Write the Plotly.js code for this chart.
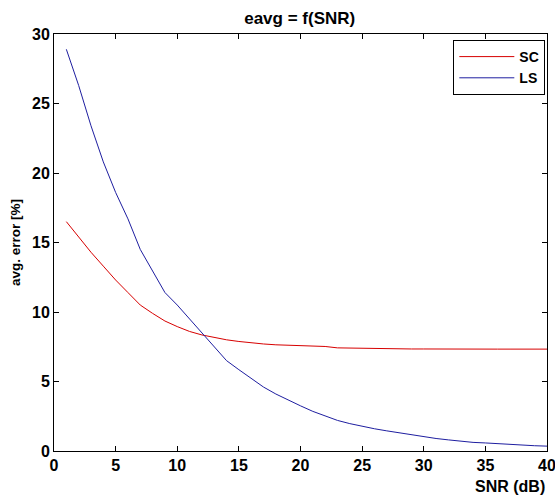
<!DOCTYPE html>
<html>
<head>
<meta charset="utf-8">
<script src="https://cdn.plot.ly/plotly-3.0.1.min.js"></script>
<style>html,body{margin:0;padding:0;background:#fff;}#chart{width:555px;height:498px;}</style>
</head>
<body>
<div id="chart"></div>
<script>
const snr = [1,2,3,4,5,6,7,8,9,10,11,12,13,14,15,16,17,18,19,20,21,22,23,24,25,26,27,28,29,30,31,32,33,34,35,36,37,38,39,40];
const scError = [16.5,15.4,14.3,13.3,12.3,11.4,10.5,9.9,9.35,8.95,8.6,8.35,8.15,8.0,7.88,7.78,7.7,7.64,7.6,7.55,7.53,7.52,7.42,7.4,7.39,7.38,7.38,7.35,7.34,7.34,7.33,7.33,7.33,7.33,7.33,7.33,7.33,7.33,7.33,7.33];
const lsError = [28.9,26.3,23.4,20.8,18.6,16.7,14.5,13.0,11.4,10.5,9.5,8.5,7.5,6.5,5.85,5.2,4.6,4.1,3.65,3.25,2.85,2.5,2.2,1.97,1.77,1.6,1.45,1.3,1.15,1.02,0.9,0.8,0.7,0.62,0.58,0.52,0.45,0.42,0.38,0.35];
const seriesNames = ["SC", "LS"];
const titleText = "eavg = f(SNR)";
const xTitle = "SNR (dB)";
const yTitle = "avg. error [%]";

const FONT = "Liberation Sans, Arial, sans-serif";
const traces = [
  {x: snr, y: scError, name: seriesNames[0], mode: "lines", line: {color: "rgb(215,0,0)", width: 1}},
  {x: snr, y: lsError, name: seriesNames[1], mode: "lines", line: {color: "rgb(30,30,160)", width: 1}}
];
const axisCommon = {
  showgrid: false, zeroline: false, showline: true, linecolor: "#000", linewidth: 1,
  mirror: "ticks", ticks: "inside", ticklen: 5, tickcolor: "#000", dtick: 5, tick0: 0,
  ticklabeloverflow: "allow",
  tickfont: {family: FONT, size: 16, color: "#000", weight: "bold"}
};
const layout = {
  width: 555, height: 498,
  paper_bgcolor: "#fff", plot_bgcolor: "#fff",
  margin: {l: 54, r: 8, t: 34, b: 47},
  title: {text: titleText, font: {family: FONT, size: 17, color: "#000", weight: "bold"},
          x: 0.54, xref: "container", xanchor: "center", y: 0.964, yref: "container", yanchor: "middle"},
  xaxis: Object.assign({}, axisCommon, {range: [0, 40]}),
  yaxis: Object.assign({}, axisCommon, {range: [0, 30],
    title: {text: yTitle, standoff: 8, font: {family: FONT, size: 13.5, color: "#000", weight: "bold"}}}),
  showlegend: true,
  legend: {x: 0.9966, xanchor: "right", y: 0.9856, yanchor: "top", bgcolor: "#fff",
           bordercolor: "#000", borderwidth: 1, itemwidth: 55,
           font: {family: FONT, size: 14, color: "#000", weight: "bold"}},
  annotations: [{text: xTitle, xref: "paper", yref: "paper", x: 1, y: -0.086, xanchor: "right", yanchor: "middle",
                 showarrow: false, font: {family: FONT, size: 16, color: "#000", weight: "bold"}}]
};
Plotly.newPlot("chart", traces, layout, {displayModeBar: false, staticPlot: true});
</script>
</body>
</html>
